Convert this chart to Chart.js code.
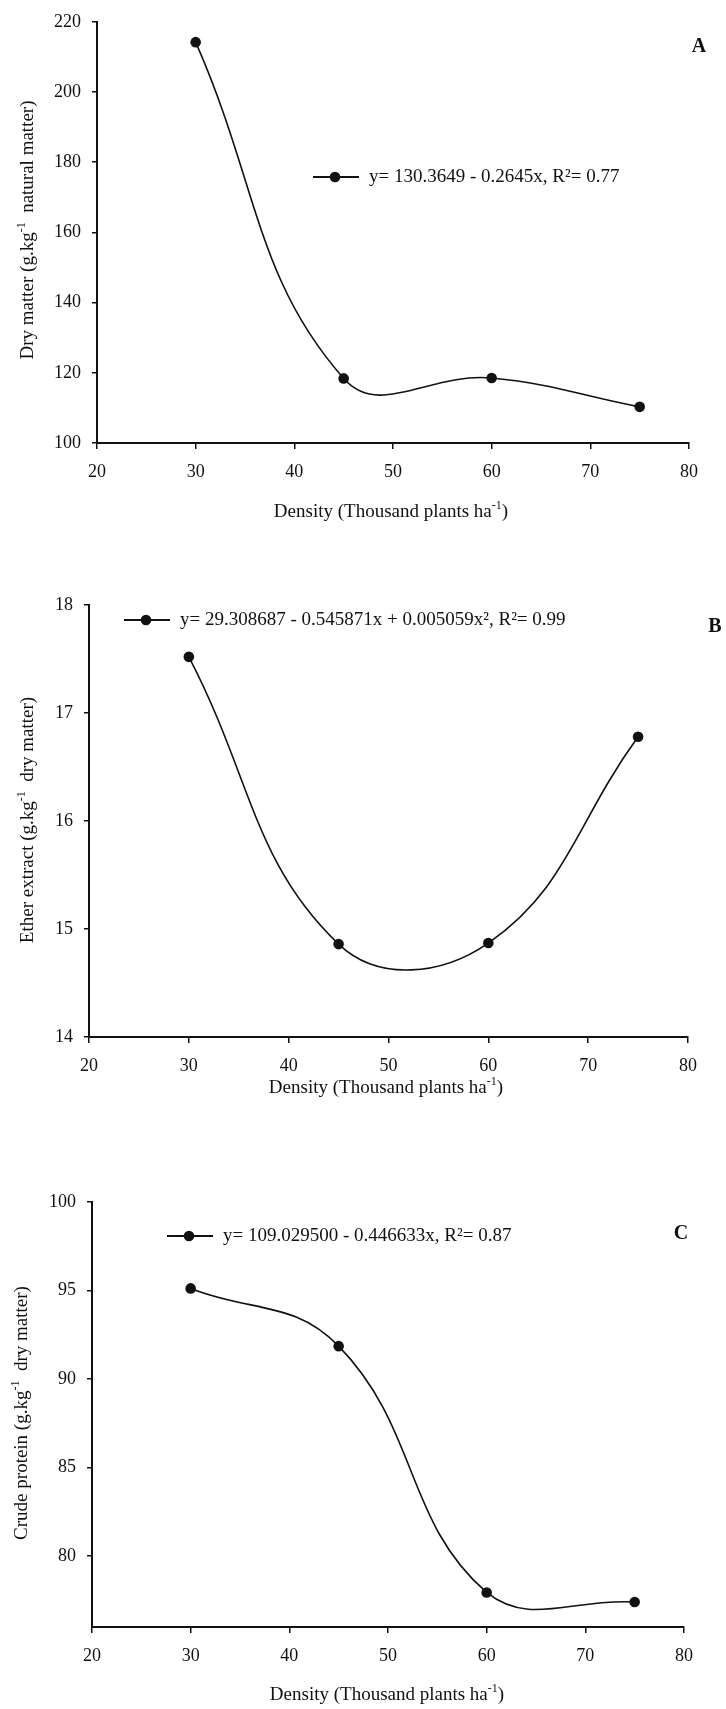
<!DOCTYPE html>
<html>
<head>
<meta charset="utf-8">
<script src="https://cdn.jsdelivr.net/npm/chart.js@4.4.1/dist/chart.umd.min.js"></script>
<style>
  html, body { margin: 0; padding: 0; background: #fff; }
  body { width: 726px; height: 1709px; position: relative; overflow: hidden; }
  .panel { position: absolute; left: 0; width: 726px; }
  canvas { display: block; }
</style>
</head>
<body>
<div class="panel" style="top:0"><canvas id="chart-a" width="726" height="540"></canvas></div>
<div class="panel" style="top:540px"><canvas id="chart-b" width="726" height="580"></canvas></div>
<div class="panel" style="top:1120px"><canvas id="chart-c" width="726" height="589"></canvas></div>
<script>
// values
const density = [30, 45, 60, 75];
const dryMatter = [214.2, 118.4, 118.5, 110.3];
const etherExtract = [17.52, 14.86, 14.87, 16.78];
const crudeProtein = [95.12, 91.86, 77.95, 77.41];

const xTicks = [20, 30, 40, 50, 60, 70, 80];
const yTicksA = [100, 120, 140, 160, 180, 200, 220];
const yTicksB = [14, 15, 16, 17, 18];
const yTicksC = [80, 85, 90, 95, 100];

const eqA = 'y= 130.3649 - 0.2645x, R²= 0.77';
const eqB = 'y= 29.308687 - 0.545871x + 0.005059x², R²= 0.99';
const eqC = 'y= 109.029500 - 0.446633x, R²= 0.87';

const xTitle = [['Density (Thousand plants ha', false], ['-1', true], [')', false]];
const yTitleA = [['Dry matter (g.kg', false], ['-1', true], ['  natural matter)', false]];
const yTitleB = [['Ether extract (g.kg', false], ['-1', true], ['  dry matter)', false]];
const yTitleC = [['Crude protein (g.kg', false], ['-1', true], ['  dry matter)', false]];

const SERIF = '"Liberation Serif", "Times New Roman", serif';
const INK = '#111';

// text with a raised "-1"
function drawRich(ctx, parts, cx, cy, vertical) {
    const big = '19px ' + SERIF, small = '12px ' + SERIF;
    let w = 0;
    parts.forEach(p => { ctx.font = p[1] ? small : big; w += ctx.measureText(p[0]).width; });
    ctx.save();
    ctx.translate(cx, cy);
    if (vertical) ctx.rotate(-Math.PI / 2);
    ctx.textBaseline = 'middle';
    ctx.textAlign = 'left';
    let x = -w / 2;
    parts.forEach(p => {
        ctx.font = p[1] ? small : big;
        ctx.fillText(p[0], x, p[1] ? -6 : 0);
        x += ctx.measureText(p[0]).width;
    });
    ctx.restore();
}

const panelDecor = {
    id: 'panelDecor',
    afterDraw(chart, args, opts) {
        const ctx = chart.ctx;
        ctx.save();
        ctx.fillStyle = INK;
        ctx.strokeStyle = INK;
        // legend
        const lg = opts.legend;
        ctx.lineWidth = 2;
        ctx.beginPath();
        ctx.moveTo(lg.x, lg.y);
        ctx.lineTo(lg.x + 46, lg.y);
        ctx.stroke();
        ctx.beginPath();
        ctx.arc(lg.x + 22, lg.y, 5.3, 0, Math.PI * 2);
        ctx.fill();
        ctx.font = '19px ' + SERIF;
        ctx.textBaseline = 'middle';
        ctx.textAlign = 'left';
        ctx.fillText(chart.data.datasets[0].label, lg.x + 56, lg.y);
        // panel letter
        ctx.font = 'bold 20px ' + SERIF;
        ctx.textAlign = 'center';
        ctx.fillText(opts.letter[0], opts.letter[1], opts.letter[2]);
        // axis titles
        drawRich(ctx, opts.xTitle[0], opts.xTitle[1], opts.xTitle[2], false);
        drawRich(ctx, opts.yTitle[0], opts.yTitle[1], opts.yTitle[2], true);
        ctx.restore();
    }
};

function makePanel(id, values, yMin, yMax, yTicks, label, box, decor) {
    const canvas = document.getElementById(id);
    const H = canvas.height;
    return new Chart(canvas, {
        type: 'line',
        data: {
            datasets: [{
                label: label,
                data: density.map((x, i) => ({x: x, y: values[i]})),
                borderColor: INK,
                backgroundColor: INK,
                borderWidth: 1.6,
                pointRadius: 5.3,
                pointHoverRadius: 5.3,
                pointBorderWidth: 0,
                tension: 0.42,
                fill: false
            }]
        },
        options: {
            responsive: false,
            animation: false,
            events: [],
            layout: {padding: {top: box.top, right: 726 - box.right, left: 0, bottom: 0}},
            plugins: {
                legend: {display: false},
                tooltip: {enabled: false},
                panelDecor: decor
            },
            scales: {
                x: {
                    type: 'linear',
                    min: 20,
                    max: 80,
                    afterBuildTicks: s => { s.ticks = xTicks.map(v => ({value: v})); },
                    afterFit: s => { s.height = H - box.bottom; },
                    ticks: {color: INK, font: {family: SERIF, size: 18}, padding: 12, maxRotation: 0, autoSkip: false},
                    grid: {drawOnChartArea: false, tickLength: 6, color: INK, lineWidth: 1.5},
                    border: {color: INK, width: 2}
                },
                y: {
                    min: yMin,
                    max: yMax,
                    afterBuildTicks: s => { s.ticks = yTicks.map(v => ({value: v})); },
                    afterFit: s => { s.width = box.left; },
                    ticks: {color: INK, font: {family: SERIF, size: 18}, padding: 11},
                    grid: {drawOnChartArea: false, tickLength: 5, color: INK, lineWidth: 1.5},
                    border: {color: INK, width: 2}
                }
            }
        },
        plugins: [panelDecor]
    });
}

makePanel('chart-a', dryMatter, 100, 220, yTicksA, eqA,
    {left: 97, right: 689, top: 18, bottom: 443},
    {legend: {x: 313, y: 177}, letter: ['A', 699, 47], xTitle: [xTitle, 391, 512], yTitle: [yTitleA, 28, 230]});

makePanel('chart-b', etherExtract, 14, 18, yTicksB, eqB,
    {left: 89, right: 688, top: 65, bottom: 497},
    {legend: {x: 124, y: 80}, letter: ['B', 715, 87], xTitle: [xTitle, 386, 548], yTitle: [yTitleB, 28, 280]});

makePanel('chart-c', crudeProtein, 76, 100, yTicksC, eqC,
    {left: 92, right: 684, top: 82, bottom: 507},
    {legend: {x: 167, y: 116}, letter: ['C', 681, 114], xTitle: [xTitle, 387, 575], yTitle: [yTitleC, 22, 293]});
</script>
</body>
</html>
